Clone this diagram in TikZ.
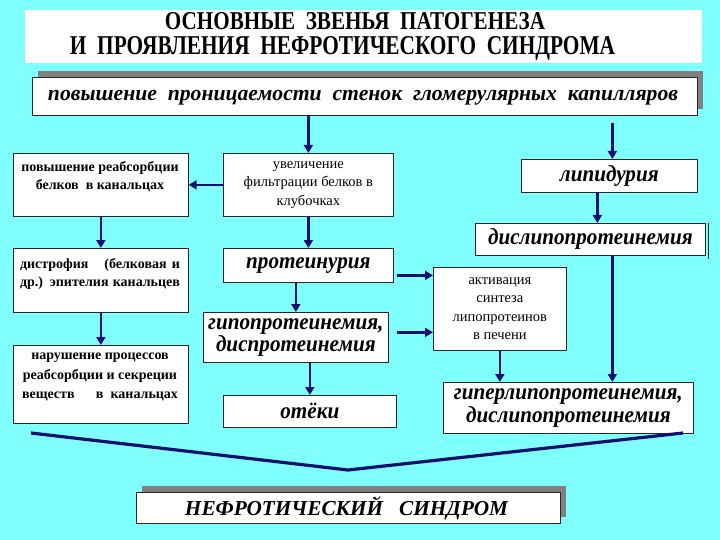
\documentclass[tikz,border=0pt]{standalone}
\usepackage{fontspec}
\setmainfont{Liberation Serif}[BoldFont={Liberation Serif Bold}, ItalicFont={Liberation Serif Italic}, BoldItalicFont={Liberation Serif Bold Italic}]
\newfontfamily\condit{Liberation Serif Bold Italic}[FakeStretch=0.92]
\usetikzlibrary{arrows.meta,shadows,calc}
\definecolor{bg}{RGB}{128,255,255}
\definecolor{navy}{RGB}{16,16,112}
\definecolor{shade}{RGB}{128,128,128}
\begin{document}
\begin{tikzpicture}[x=1pt,y=-1pt,
 box/.style={draw=black!85, line width=0.7pt, fill=white, inner sep=0pt, anchor=north west},
 shbox/.style={box, drop shadow={shadow xshift=5.5pt, shadow yshift=6.5pt, fill=shade, opacity=1}},
 arr/.style={draw=navy, line width=2.4pt, -{Triangle[length=8pt,width=9pt]}},
 vline/.style={draw=navy, line width=3.2pt, line join=miter},
 small/.style={font=\fontsize{14}{18}\selectfont\bfseries, align=center, inner sep=0pt},
 smallr/.style={font=\fontsize{14.5}{18.5}\selectfont, align=center, inner sep=0pt},
 ital/.style={font=\fontsize{23}{22.5}\condit, align=center, inner sep=0pt},
 plain/.style={inner sep=0pt},
]
\fill[bg] (0,0) rectangle (720,540);
\useasboundingbox (0,0) rectangle (720,540);

% title
\node[fill=white, anchor=north west, minimum width=677pt, minimum height=53pt, inner sep=0pt] (title) at (25,10) {};
\node[plain, anchor=base] (title1) at (355,30) {\resizebox{380pt}{17pt}{\bfseries ОСНОВНЫЕ\ \ ЗВЕНЬЯ\ \ ПАТОГЕНЕЗА}};
\node[plain, anchor=base] (title2) at (342.5,55) {\resizebox{545pt}{18pt}{\bfseries И\ \ ПРОЯВЛЕНИЯ\ \ НЕФРОТИЧЕСКОГО\ \ СИНДРОМА}};

% top box
\node[shbox, minimum width=665pt, minimum height=38pt] (topbox) at (32,77) {};
\node[plain, anchor=base] (toptext) at (363,101) {\resizebox{630pt}{!}{\bfseries\itshape повышение\ \ проницаемости\ \ стенок\ \ гломерулярных\ \ капилляров}};

% row 2
\node[box, minimum width=175pt, minimum height=63pt] (boxA) at (13,153) {};
\node[small] (boxAtext) at (100,177) {повышение реабсорбции\\белков\ \ в канальцах};
\node[box, smallr, minimum width=170pt, minimum height=63pt] (boxB) at (223,153) {увеличение\\фильтрации белков в\\клубочках};
\node[box, ital, minimum width=176pt, minimum height=33pt] (lipid) at (521,159) {липидурия};

% row 3
\node[box, minimum width=175pt, minimum height=64pt] (dist) at (13,248) {};
\node[small, align=left] (disttext) at (100,274) {\makebox[160pt][s]{дистрофия\ \ \ (белковая и}\\\makebox[160pt][s]{др.) эпителия канальцев}};
\node[box, ital, minimum width=170pt, minimum height=34pt] (prot) at (223,248) {протеинурия};
\node[box, ital, minimum width=230pt, minimum height=32pt] (dislip) at (475,223) {дислипопротеинемия};
\draw[black!85, line width=0.7pt] ([xshift=2.5pt]dislip.north east) -- ([xshift=2.5pt,yshift=-3pt]dislip.south east);

% row 4
\node[box, smallr, minimum width=133pt, minimum height=83pt] (activ) at (433,267) {активация\\синтеза\\липопротеинов\\в печени};
\node[box, ital, minimum width=185pt, minimum height=50pt] (hypo) at (203,312) {гипопротеинемия,\\диспротеинемия};
\node[box, minimum width=175pt, minimum height=78pt] (narush) at (13,345) {};
\node[small, font=\fontsize{14}{19.5}\selectfont\bfseries] (narushtext) at (100,377) {нарушение процессов\\реабсорбции и секреции\\\makebox[156pt][s]{веществ\ \ \ в канальцах}};

% row 5
\node[box, ital, minimum width=173pt, minimum height=32pt] (oteki) at (223,395) {отёки};
\node[box, ital, minimum width=250pt, minimum height=51pt] (hyper) at (443,382) {гиперлипопротеинемия,\\дислипопротеинемия};

% V line
\coordinate (vL) at (31,433);
\coordinate (vM) at (348,470);
\coordinate (vR) at (683,433);
\draw[vline] (vL) -- (vM) -- (vR);

% final box
\node[shbox, minimum width=424pt, minimum height=31pt] (nephro) at (136,492) {};
\node[plain, anchor=base] (nephrotext) at (346.5,515) {\resizebox{323pt}{!}{\bfseries\itshape НЕФРОТИЧЕСКИЙ\ \ \ СИНДРОМ}};

% arrows
\draw[arr] (boxB.north |- topbox.south) -- (boxB.north);
\draw[arr] ([xshift=3pt,yshift=-7pt]lipid.north |- topbox.south) -- ([xshift=3pt]lipid.north);
\draw[arr] (boxB.west) -- (boxA.east);
\draw[arr] (boxA.south) -- (dist.north);
\draw[arr] (boxB.south) -- (prot.north);
\draw[arr] ([xshift=-12pt]lipid.south) -- ([xshift=-12pt]lipid.south |- dislip.north);
\draw[arr] (hypo.north |- prot.south) -- (hypo.north);
\draw[arr] ([xshift=3pt,yshift=-10pt]prot.east) -- ([yshift=-10pt]prot.east -| activ.west);
\draw[arr] ([xshift=8pt,yshift=5pt]hypo.east) -- ([yshift=5pt]hypo.east -| activ.west);
\draw[arr] (dist.south) -- (narush.north);
\draw[arr] (oteki.north |- hypo.south) -- (oteki.north);
\draw[arr] (activ.south) -- (activ.south |- hyper.north);
\draw[arr] ([xshift=22pt]dislip.south) -- ([xshift=22pt]dislip.south |- hyper.north);
\end{tikzpicture}
\end{document}
